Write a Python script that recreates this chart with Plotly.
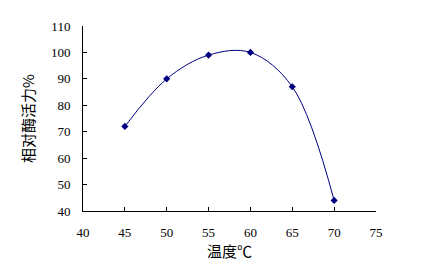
import plotly.graph_objects as go

temps = [45, 50, 55, 60, 65, 70]
activity = [72, 90, 99, 100, 87, 44]
x_ticks = [40, 45, 50, 55, 60, 65, 70, 75]
y_ticks = [40, 50, 60, 70, 80, 90, 100, 110]

fig = go.Figure()
fig.add_trace(go.Scatter(
    x=temps, y=activity, mode="lines+markers",
    line=dict(color="#000080", width=1, shape="spline", smoothing=1),
    marker=dict(symbol="diamond", size=5.5, color="#000080"),
    showlegend=False,
))

tick_font = dict(family="Liberation Serif, DejaVu Serif, serif", size=13, color="black")
fig.update_layout(
    width=444, height=269,
    margin=dict(l=83, r=68, t=26, b=58),
    paper_bgcolor="white", plot_bgcolor="white",
    xaxis=dict(range=[40, 75], tickvals=x_ticks, ticktext=[str(v) for v in x_ticks],
               showgrid=False, zeroline=False, showline=True, linecolor="black", linewidth=1,
               ticks="inside", ticklen=4, tickcolor="black", tickfont=tick_font,
               ticklabelstandoff=9,
               title=dict(text="温度℃", font=dict(family="Noto Sans CJK SC", size=15, color="black"), standoff=6)),
    yaxis=dict(range=[40, 110], tickvals=y_ticks, ticktext=[str(v) for v in y_ticks],
               showgrid=False, zeroline=False, showline=True, linecolor="black", linewidth=1,
               ticks="inside", ticklen=4, tickcolor="black", tickfont=tick_font,
               ticklabelstandoff=9,
               title=dict(text="相对酶活力%", font=dict(family="Noto Sans CJK SC", size=15, color="black"), standoff=12)),
)
fig.write_html("out.html")
